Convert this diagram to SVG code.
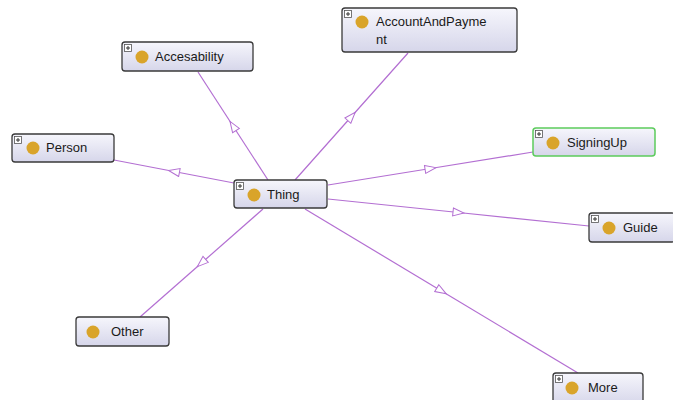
<svg xmlns="http://www.w3.org/2000/svg" width="673" height="400" viewBox="0 0 673 400">
<defs>
<linearGradient id="g" x1="0" y1="0" x2="0" y2="1">
<stop offset="0" stop-color="#F6F6FC"/>
<stop offset="1" stop-color="#D6D6EA"/>
</linearGradient>
<marker id="tri" markerUnits="userSpaceOnUse" viewBox="-1 -1 13 10" refX="5.5" refY="4" markerWidth="13" markerHeight="10" orient="auto">
<path d="M0,0 L11,4 L0,8 Z" fill="#fff" stroke="#B36FD2" stroke-width="1"/>
</marker>
</defs>
<style>
.box{fill:url(#g);stroke:#3a3a3a;stroke-width:1.3}
.sel{fill:url(#g);stroke:#5CCB5C;stroke-width:1.5}
.pl{fill:#fff;stroke:#555;stroke-width:0.8}
.pls{stroke:#333;stroke-width:1}
.dot{fill:#D9A42A}
text{font-family:"Liberation Sans",Arial,sans-serif;font-size:13px;fill:#1a1a1a}
.e{fill:none;stroke:#B36FD2;stroke-width:1.2;marker-mid:url(#tri)}
</style>
<rect width="673" height="400" fill="#fff"/>
<g id="connectors">
<path class="e" d="M234,183 L174,171.5 L114,160"/>
<path class="e" d="M268,180 L233,126 L198,72"/>
<path class="e" d="M295,180 L351.5,116.5 L408,53"/>
<path class="e" d="M328,185 L430.5,168.5 L533,152"/>
<path class="e" d="M328,199 L458.5,212.5 L589,226"/>
<path class="e" d="M263,209 L201.5,263 L140,317"/>
<path class="e" d="M305,209 L441.5,291 L578,373"/>
</g>
<g id="Thing">
<rect class="box" x="234" y="180" width="93" height="28" rx="3"/>
<rect class="pl" x="236.5" y="182.5" width="7" height="7"/><path class="pls" d="M238,186H242M240,184V188"/>
<circle class="dot" cx="254" cy="195" r="6.5"/>
<text x="267" y="199">Thing</text>
</g>
<g id="Person">
<rect class="box" x="12" y="134" width="102" height="28" rx="3"/>
<rect class="pl" x="14.5" y="136.5" width="7" height="7"/><path class="pls" d="M16,140H20M18,138V142"/>
<circle class="dot" cx="33" cy="148" r="6.5"/>
<text x="46" y="152">Person</text>
</g>
<g id="Accesability">
<rect class="box" x="122" y="42" width="131" height="29" rx="3"/>
<rect class="pl" x="124.5" y="44.5" width="7" height="7"/><path class="pls" d="M126,48H130M128,46V50"/>
<circle class="dot" cx="142" cy="57" r="6.5"/>
<text x="155" y="61">Accesability</text>
</g>
<g id="AccountAndPayment">
<rect class="box" x="342" y="8" width="175" height="44" rx="3"/>
<rect class="pl" x="344.5" y="10.5" width="7" height="7"/><path class="pls" d="M346,14H350M348,12V16"/>
<circle class="dot" cx="362" cy="22" r="6.5"/>
<text x="376" y="26">AccountAndPayme</text>
<text x="376" y="44">nt</text>
</g>
<g id="SigningUp">
<rect class="sel" x="533" y="128" width="122" height="28" rx="3"/>
<rect class="pl" x="535.5" y="130.5" width="7" height="7"/><path class="pls" d="M537,134H541M539,132V136"/>
<circle class="dot" cx="553" cy="143" r="6.5"/>
<text x="567" y="147">SigningUp</text>
</g>
<g id="Guide">
<rect class="box" x="589" y="213" width="86" height="29" rx="3"/>
<rect class="pl" x="591.5" y="215.5" width="7" height="7"/><path class="pls" d="M593,219H597M595,217V221"/>
<circle class="dot" cx="609" cy="228" r="6.5"/>
<text x="623" y="232">Guide</text>
</g>
<g id="Other">
<rect class="box" x="76" y="317" width="93" height="29" rx="3"/>
<circle class="dot" cx="93" cy="332" r="6.5"/>
<text x="111" y="336">Other</text>
</g>
<g id="More">
<rect class="box" x="553" y="373" width="90" height="32" rx="3"/>
<rect class="pl" x="555.5" y="375.5" width="7" height="7"/><path class="pls" d="M557,379H561M559,377V381"/>
<circle class="dot" cx="572" cy="388" r="6.5"/>
<text x="588" y="392">More</text>
</g>
</svg>
